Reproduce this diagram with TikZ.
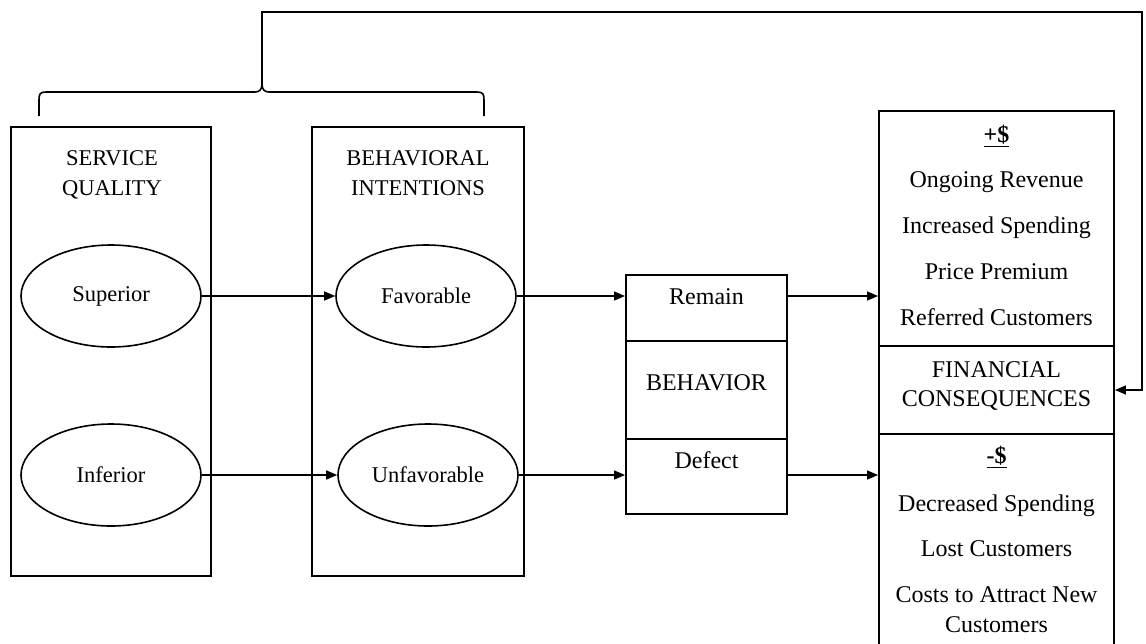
\documentclass[tikz,border=0pt]{standalone}
\usepackage{fontspec}
\setmainfont{Liberation Serif}
\usetikzlibrary{shapes.geometric,arrows.meta}
\begin{document}
\begin{tikzpicture}[x=1pt,y=-1pt,
  frame/.style={draw, rectangle, line width=1.9pt, inner sep=0pt},
  oval/.style={draw, ellipse, line width=1.6pt, minimum width=180pt,
    minimum height=102pt, inner sep=0pt, font=\fontsize{22.5}{27}\selectfont},
  conn/.style={line width=1.4pt, -{Triangle[length=11pt,width=9pt]}},
  plain/.style={line width=1.6pt},
  ttl/.style={align=center, inner sep=0pt, font=\fontsize{22.5}{30}\selectfont},
  txt/.style={inner sep=0pt, text height=15.8pt, text depth=0pt,
    font=\fontsize{24}{29}\selectfont},
]
\useasboundingbox (0,0) rectangle (1146,643);

% left column frames with their titles
\node[frame, minimum width=200pt, minimum height=449pt] (sq) at (111,351.5) {};
\node[frame, minimum width=212pt, minimum height=449pt] (bi) at (418,351.5) {};
\node[ttl] (sqt) at (112,175) {SERVICE\\QUALITY};
\node[ttl] (bit) at (418,173) {BEHAVIORAL\\INTENTIONS};

% ovals
\node[oval] (sup) at (111,296) {Superior};
\node[oval] (inf) at (111,475) {Inferior};
\node[oval] (fav) at (426,296) {Favorable};
\node[oval] (unf) at (428,475) {Unfavorable};

% behavior column
\node[frame, minimum width=161pt, minimum height=66pt] (rem) at (706.5,308) {};
\node[frame, minimum width=161pt, minimum height=98pt] (bmid) at (706.5,390) {};
\node[frame, minimum width=161pt, minimum height=75pt] (dft) at (706.5,476.5) {};
\node[txt] (remt) at (706.5,297) {Remain};
\node[txt] (bmidt) at (706.5,383) {BEHAVIOR};
\node[txt] (dftt) at (706.5,461) {Defect};

% financial consequences column
\node[frame, minimum width=235pt, minimum height=235pt] (pos) at (996.5,228.5) {};
\node[frame, minimum width=235pt, minimum height=88pt] (fc) at (996.5,390) {};
\node[frame, minimum width=235pt, minimum height=214pt] (neg) at (996.5,541) {};

\node[txt] (p0) at (996.5,135) {\underline{\textbf{+\$}}};
\node[txt] (p1) at (996.5,180) {Ongoing Revenue};
\node[txt] (p2) at (996.5,226) {Increased Spending};
\node[txt] (p3) at (996.5,272) {Price Premium};
\node[txt] (p4) at (996.5,318) {Referred Customers};

\node[txt] (f1) at (996.5,369.5) {FINANCIAL};
\node[txt] (f2) at (996.5,399) {CONSEQUENCES};

\node[txt] (n0) at (996.5,456) {\underline{\textbf{-\$}}};
\node[txt] (n1) at (996.5,504) {Decreased Spending};
\node[txt] (n2) at (996.5,549) {Lost Customers};
\node[txt] (n3) at (996.5,595) {Costs to Attract New};
\node[txt] (n4) at (996.5,625) {Customers};

% forward connectors
\draw[conn] (sup) -- (fav);
\draw[conn] (inf) -- (unf);
\draw[conn] (fav.east) -- (fav.east -| rem.west);
\draw[conn] (unf.east) -- (unf.east -| dft.west);
\draw[conn] (fav.east -| rem.east) -- (fav.east -| pos.west);
\draw[conn] (unf.east -| dft.east) -- (unf.east -| neg.west);

% brace over the first two columns
\coordinate (tip) at (262,84);
\draw[plain] (39,116) -- (39,100) .. controls (39,94) and (40,92) .. (46,92)
  -- (255,92) .. controls (259,92) and (262,90) .. (tip);
\draw[plain] (484,116) -- (484,100) .. controls (484,94) and (483,92) .. (477,92)
  -- (269,92) .. controls (265,92) and (262,90) .. (tip);

% feedback loop to the financial consequences
\coordinate (corner) at (1142,12);
\draw[conn] (tip) -- (262,12) -- (corner) |- (fc.east);
\end{tikzpicture}
\end{document}
